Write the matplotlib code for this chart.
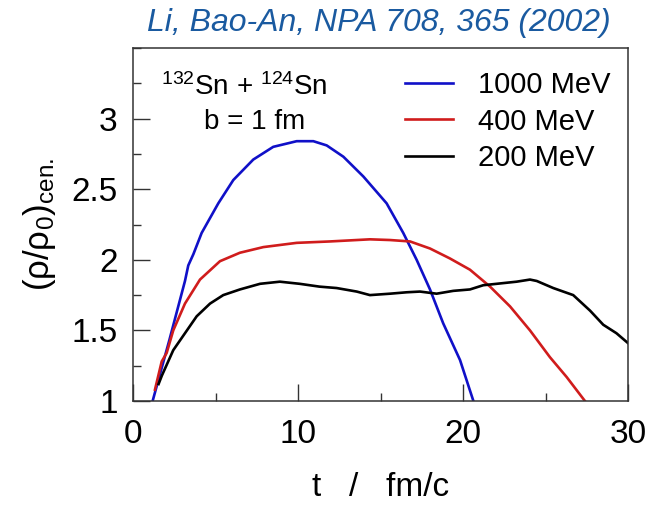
import matplotlib
matplotlib.use('Agg')
import matplotlib.pyplot as plt
from matplotlib.ticker import MultipleLocator

plt.rcParams['font.family'] = ['Liberation Sans', 'DejaVu Sans']
plt.rcParams['mathtext.fontset'] = 'custom'
plt.rcParams['mathtext.rm'] = 'Liberation Sans'
plt.rcParams['mathtext.it'] = 'Liberation Sans:italic'

# t (fm/c) and central density rho/rho0
t_1000 = [1.19, 2.2, 3.15, 3.35, 3.66, 4.16, 5.17, 6.08, 7.29, 8.5, 9.92,
          10.93, 11.74, 12.75, 13.96, 15.37, 16.38, 17.19, 18.0, 18.8, 19.82, 20.63]
rho_1000 = [1.0, 1.43, 1.85, 1.96, 2.04, 2.19, 2.40, 2.565, 2.71, 2.80, 2.84,
            2.84, 2.81, 2.73, 2.59, 2.40, 2.19, 2.0, 1.79, 1.55, 1.29, 1.0]

t_400 = [1.33, 1.74, 2.04, 2.44, 3.15, 4.06, 5.27, 6.48, 7.9, 9.92, 11.94, 14.36,
         15.58, 16.79, 18.0, 19.2, 20.42, 21.64, 22.85, 24.06, 25.27, 26.28, 27.39]
rho_400 = [1.08, 1.28, 1.34, 1.50, 1.69, 1.86, 1.99, 2.05, 2.09, 2.12, 2.13, 2.145,
           2.14, 2.13, 2.08, 2.01, 1.93, 1.81, 1.67, 1.50, 1.31, 1.17, 1.0]

t_200 = [1.55, 1.75, 2.44, 3.15, 3.86, 4.67, 5.47, 6.48, 7.7, 8.9, 10.1, 11.3, 12.34,
         13.56, 14.36, 15.58, 16.59, 17.39, 18.4, 19.41, 20.42, 21.23, 22.04, 23.25,
         24.06, 24.47, 25.47, 26.68, 27.7, 28.5, 29.3, 30.0]
rho_200 = [1.12, 1.18, 1.36, 1.48, 1.60, 1.69, 1.75, 1.79, 1.83, 1.845, 1.83, 1.81,
           1.80, 1.775, 1.75, 1.76, 1.77, 1.775, 1.76, 1.78, 1.79, 1.82, 1.83, 1.845,
           1.86, 1.85, 1.80, 1.75, 1.64, 1.54, 1.48, 1.41]

fig = plt.figure(figsize=(6.51, 5.05), dpi=100)
ax = fig.add_axes([133 / 651, 104 / 505, 495 / 651, 353 / 505])

ax.plot(t_1000, rho_1000, color='#1010c8', lw=1.9, label='1000 MeV')
ax.plot(t_400, rho_400, color='#d01c1c', lw=1.9, label='400 MeV')
ax.plot(t_200, rho_200, color='black', lw=1.9, label='200 MeV')

ax.set_xlim(0, 30)
ax.set_ylim(1, 3.5)
ax.set_xticks([0, 10, 20, 30])
ax.set_yticks([1, 1.5, 2, 2.5, 3])
ax.set_yticklabels(['1', '1.5', '2', '2.5', '3'])
ax.xaxis.set_minor_locator(MultipleLocator(5))
ax.yaxis.set_minor_locator(MultipleLocator(0.25))
ax.tick_params(which='both', direction='in', top=False, right=False,
               labelsize=24, width=1, color='#333333')
ax.tick_params(axis='x', which='major', length=12, pad=13)
ax.tick_params(axis='y', which='major', length=12, pad=11)
ax.tick_params(which='minor', length=6)
for s in ax.spines.values():
    s.set_linewidth(1.1)
    s.set_color('#333333')

ax.set_xlabel('t   /   fm/c', fontsize=24, labelpad=16)
ax.set_ylabel('(ρ/ρ$_0$)$_{\\rm cen.}$', fontsize=25, labelpad=10)

ax.text(0.225, 0.89, r'$^{132}$Sn + $^{124}$Sn', transform=ax.transAxes,
        ha='center', va='center', fontsize=20)
ax.text(0.245, 0.79, 'b = 1 fm', transform=ax.transAxes,
        ha='center', va='center', fontsize=20)

ax.legend(loc='upper right', bbox_to_anchor=(1.0, 0.985), frameon=False,
          fontsize=21, handlelength=1.65, handletextpad=0.85, labelspacing=0.3,
          borderaxespad=0.2)

fig.text(379 / 651, 1 - 23 / 505, 'Li, Bao-An, NPA 708, 365 (2002)',
         ha='center', va='center', fontsize=23, style='italic', color='#1a5aa0')

fig.savefig('out.png', dpi=100)
